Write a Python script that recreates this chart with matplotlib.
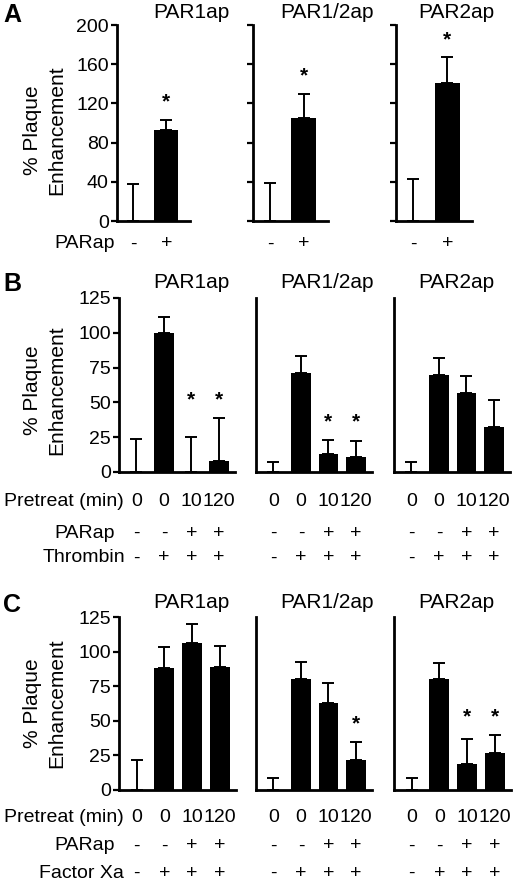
import matplotlib

matplotlib.use("Agg")
import matplotlib.pyplot as plt
from matplotlib import transforms

plt.rcParams["font.family"] = ["Liberation Sans", "DejaVu Sans"]

GROUPS = ["PAR1ap", "PAR1/2ap", "PAR2ap"]

# panel A: PARap alone
A_MEANS = [[0, 93], [0, 105], [0, 141]]
A_ERRS = [[38, 10], [39, 25], [43, 26]]
A_STARS = [[0, 1], [0, 1], [0, 1]]
A_PARAP = ["-", "+"]

# panel B: pretreatment then thrombin
B_MEANS = [[0, 100, 0, 8], [0, 71, 13, 10.5], [0, 70, 57, 32]]
B_ERRS = [[24, 11, 25, 31], [7.5, 12, 10, 11.5], [7.5, 12, 12, 20]]
B_STARS = [[0, 0, 1, 1], [0, 0, 1, 1], [0, 0, 0, 0]]

# panel C: pretreatment then factor Xa
C_MEANS = [[0, 88, 106, 89], [0, 80, 63, 21.5], [0, 80, 19, 27]]
C_ERRS = [[22, 15, 14, 15], [9, 12.5, 14, 13.5], [9, 12, 18, 13]]
C_STARS = [[0, 0, 0, 0], [0, 0, 0, 1], [0, 0, 1, 1]]

PRETREAT = ["0", "0", "10", "120"]
PARAP = ["-", "-", "+", "+"]
THROMBIN = ["-", "+", "+", "+"]
FACTOR_XA = ["-", "+", "+", "+"]

W, H = 520, 884
FS = 14
LW = 1.6

fig = plt.figure(figsize=(W / 100, H / 100), dpi=100)


def add_ax(x0, ytop, x1, ybot):
    return fig.add_axes([x0 / W, 1 - ybot / H, (x1 - x0) / W, (ybot - ytop) / H])


def fy(py):
    return 1 - py / H


def draw_panel(ax, means, errs, stars, ymax, yticks, xlim, width, show_labels, show_ticks):
    xs = list(range(len(means)))
    ax.bar(xs, means, width=width, color="black", zorder=2)
    ax.errorbar(xs, means, yerr=[[0] * len(errs), errs], fmt="none", ecolor="black",
                elinewidth=1.4, capsize=4.5, capthick=1.4, zorder=1, clip_on=False)
    starred = [m + e for m, e, s in zip(means, errs, stars) if s]
    if starred:
        top = max(starred)
        for x, s in zip(xs, stars):
            if s:
                ax.annotate("*", (x, top), xytext=(0, 6), textcoords="offset points",
                            ha="center", va="bottom", fontsize=FS + 1, fontweight="bold")
    ax.set_xlim(*xlim)
    ax.set_ylim(0, ymax)
    for side in ("top", "right"):
        ax.spines[side].set_visible(False)
    for side in ("left", "bottom"):
        ax.spines[side].set_linewidth(LW + 0.4)
    ax.set_xticks([])
    ax.set_yticks(yticks)
    if show_labels:
        ax.tick_params(axis="y", length=4, width=LW, labelsize=FS, pad=2)
    elif show_ticks:
        ax.tick_params(axis="y", length=4, width=LW, labelleft=False)
    else:
        ax.tick_params(axis="y", length=0, labelleft=False)
    return xs


def row_text(ax, xs, labels, py):
    tr = transforms.blended_transform_factory(ax.transData, fig.transFigure)
    for x, lab in zip(xs, labels):
        ax.text(x, fy(py), lab, transform=tr, ha="center", va="center", fontsize=FS)


def ylabel(py):
    fig.text(33 / W, fy(py), "% Plaque", rotation=90, ha="center", va="center", fontsize=FS + 1)
    fig.text(57 / W, fy(py), "Enhancement", rotation=90, ha="center", va="center", fontsize=FS + 1)


# ---- panel A
a_boxes = [(117, 25, 190, 221), (253, 25, 328, 221), (396, 25, 472, 221)]
a_titles_x = [191, 327, 456]
for i, box in enumerate(a_boxes):
    ax = add_ax(*box)
    xs = draw_panel(ax, A_MEANS[i], A_ERRS[i], A_STARS[i], 200, [0, 40, 80, 120, 160, 200],
                    (-0.5, 1.72), 0.74, i == 0, True)
    row_text(ax, xs, A_PARAP, 244)
    fig.text(a_titles_x[i] / W, fy(13), GROUPS[i], ha="center", va="center", fontsize=FS + 1)
fig.text(115 / W, fy(244), "PARap", ha="right", va="center", fontsize=FS)
fig.text(3 / W, fy(15), "A", ha="left", va="center", fontsize=FS + 4, fontweight="bold")
ylabel(130)

# ---- panels B and C
b_boxes = [(119, 298, 235, 472), (256, 298, 372, 472), (394, 298, 510, 472)]
c_boxes = [(119, 617, 236, 790), (256, 617, 372, 790), (394, 617, 511, 790)]
titles_x = [191, 327, 456]

for letter, boxes, means, errs, stars, title_y, rows, ly in (
    ("B", b_boxes, B_MEANS, B_ERRS, B_STARS, 282,
     [("Pretreat (min)", PRETREAT, 502, 124), ("PARap", PARAP, 533, 115), ("Thrombin", THROMBIN, 558, 125)], 390),
    ("C", c_boxes, C_MEANS, C_ERRS, C_STARS, 603,
     [("Pretreat (min)", PRETREAT, 818, 124), ("PARap", PARAP, 846, 115), ("Factor Xa", FACTOR_XA, 873, 124)], 703),
):
    for i, box in enumerate(boxes):
        ax = add_ax(*box)
        xs = draw_panel(ax, means[i], errs[i], stars[i], 125, [0, 25, 50, 75, 100, 125],
                        (-0.63, 3.58), 0.72, i == 0, False)
        for name, labels, py, rx in rows:
            row_text(ax, xs, labels, py)
        fig.text(titles_x[i] / W, fy(title_y), GROUPS[i], ha="center", va="center", fontsize=FS + 1)
    for name, labels, py, rx in rows:
        fig.text(rx / W, fy(py), name, ha="right", va="center", fontsize=FS)
    fig.text(3 / W, fy(title_y + 2), letter, ha="left", va="center", fontsize=FS + 4, fontweight="bold")
    ylabel(ly)

fig.savefig("out.png", dpi=100)
